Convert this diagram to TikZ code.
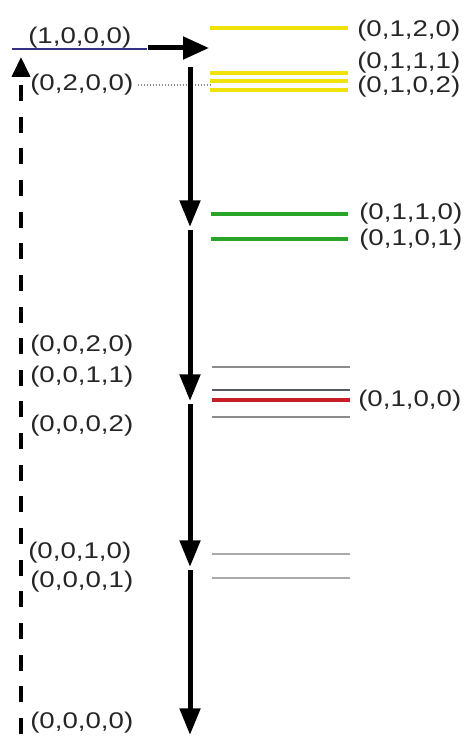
\documentclass[tikz,border=0pt]{standalone}
\usepackage{fontspec}
\setmainfont{Liberation Sans}[FakeStretch=1.22]
\usetikzlibrary{arrows.meta}
\definecolor{lvyellow}{RGB}{240,226,10}
\definecolor{lvgreen}{RGB}{40,165,40}
\definecolor{lvred}{RGB}{200,30,40}
\definecolor{lvblue}{RGB}{50,50,130}
\definecolor{lvgray}{RGB}{140,140,140}
\definecolor{lvdgray}{RGB}{85,90,100}
\definecolor{lvlgray}{RGB}{170,170,170}
\begin{document}
\begin{tikzpicture}[x=0.75pt,y=-0.75pt,
  lbl/.style={anchor=west, inner sep=0pt, text=black!85, font=\fontsize{17}{20}\selectfont},
  yellowlvl/.style={draw=lvyellow, line width=3pt},
  greenlvl/.style={draw=lvgreen, line width=2.6pt},
  redlvl/.style={draw=lvred, line width=2.6pt},
  graylvl/.style={draw=lvgray, line width=1.5pt},
  dgraylvl/.style={draw=lvdgray, line width=1.5pt},
  lgraylvl/.style={draw=lvlgray, line width=2.2pt},
  bluelvl/.style={draw=lvblue, line width=1.8pt},
  decay/.style={line width=3.75pt, -{Triangle[width=15pt,length=20pt]}},
  excite/.style={line width=3.75pt, -{Triangle[width=16.5pt,length=19.5pt]}},
  pump/.style={line width=3pt, dash pattern=on 12pt off 11.74pt, dash phase=21.5pt,
    -{Triangle[width=13.5pt,length=15pt]}},
  link/.style={draw=lvgray, line width=0.9pt, dash pattern=on 0.75pt off 1.5pt}
]
\useasboundingbox (0,0) rectangle (467,737);
\fill[white] (0,0) rectangle (467,737);

% ground-state levels (left)
\draw[bluelvl] (12,49) coordinate (b1) -- (147,49) coordinate (b2);

% labels left
\node[lbl] (l1000) at (28,38) {(1,0,0,0)};
\node[lbl] (l0200) at (30,85) {(0,2,0,0)};
\node[lbl] (l0020) at (30,346) {(0,0,2,0)};
\node[lbl] (l0011) at (30,377) {(0,0,1,1)};
\node[lbl] (l0002) at (30,426) {(0,0,0,2)};
\node[lbl] (l0010) at (28,553) {(0,0,1,0)};
\node[lbl] (l0001) at (30,582) {(0,0,0,1)};
\node[lbl] (l0000) at (30,723) {(0,0,0,0)};

% yellow levels
\draw[yellowlvl] (210,28) -- (348,28);
\draw[yellowlvl] (210,73) -- (348,73);
\draw[yellowlvl] (210,81) -- (348,81);
\draw[yellowlvl] (210,90) -- (348,90);
\node[lbl] (r0120) at (357,31) {(0,1,2,0)};
\node[lbl] (r0111) at (357,63) {(0,1,1,1)};
\node[lbl] (r0102) at (357,87) {(0,1,0,2)};

% green levels
\draw[greenlvl] (211,214) -- (348,214);
\draw[greenlvl] (211,239) -- (348,239);
\node[lbl] (r0110) at (359,214) {(0,1,1,0)};
\node[lbl] (r0101) at (359,240) {(0,1,0,1)};

% gray / red group
\draw[graylvl] (212,367) -- (350,367);
\draw[dgraylvl] (212,390) -- (350,390);
\draw[redlvl] (212,400) -- (350,400);
\draw[graylvl] (212,417) -- (350,417);
\node[lbl] (r0100) at (358,401) {(0,1,0,0)};

% lower gray levels
\draw[lgraylvl] (212,554) -- (350,554);
\draw[lgraylvl] (212,578) -- (350,578);

% dotted link
\coordinate (dl) at (210,85);
\draw[link] ([xshift=3pt]l0200.east) -- (dl);

% excitation arrow
\coordinate (e0) at (148,48);
\coordinate (e1) at (209,48);
\draw[excite] (e0) -- (e1);

% decay cascade
\coordinate (d0) at (190,67);
\coordinate (d1) at (190,227);
\coordinate (d1s) at (190,230);
\coordinate (d2) at (190,401);
\coordinate (d2s) at (190,404);
\coordinate (d3) at (190,567);
\coordinate (d3s) at (190,570);
\coordinate (d4) at (190,735);
\draw[decay] (d0) -- (d1);
\draw[decay] (d1s) -- (d2);
\draw[decay] (d2s) -- (d3);
\draw[decay] (d3s) -- (d4);

% pump (dashed)
\coordinate (p0) at (21,737);
\coordinate (p1) at (21,57);
\draw[pump] (p0) -- (p1);
\end{tikzpicture}
\end{document}
